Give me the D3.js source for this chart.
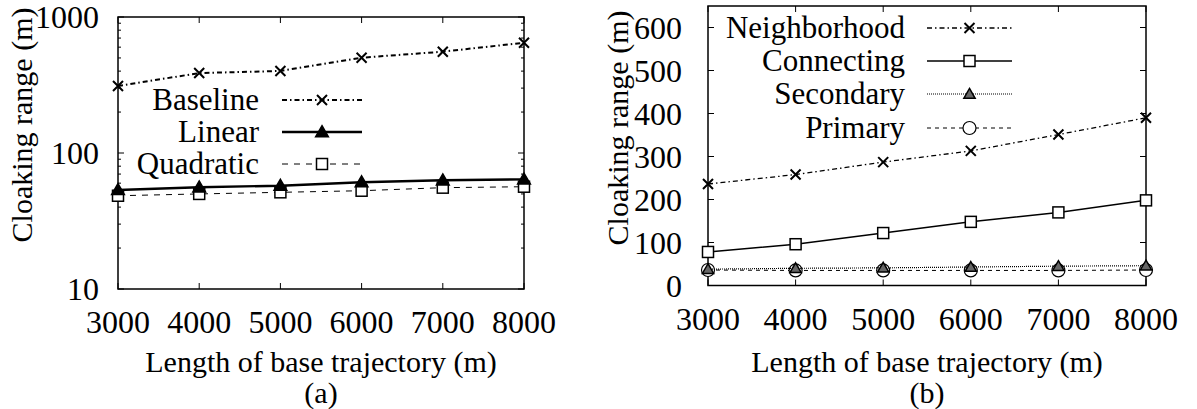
<!DOCTYPE html>
<html>
<head>
<meta charset="utf-8">
<script src="https://cdn.jsdelivr.net/npm/d3@7"></script>
</head>
<body style="margin:0">
<svg id="chart" width="1197" height="409" font-family="Liberation Serif"></svg>
<script>
// data
const lengths = [3000, 4000, 5000, 6000, 7000, 8000]
const xTicks = [3000, 4000, 5000, 6000, 7000, 8000]

// panel (a), log scale
const baseline = [311, 387, 401, 502, 556, 647]
const linear = [53.5, 56, 57.5, 61, 63, 64]
const quadratic = [48.5, 50, 51.4, 52.8, 55.6, 56.5]
const logTicks = [10, 100, 1000]

// panel (b), linear scale
const neighborhood = [236, 258, 287, 313, 351, 390]
const connecting = [78, 96, 122, 148, 170, 198]
const secondary = [38, 40, 41, 43, 45, 46]
const primary = [36, 35, 35, 35, 35, 36]
const linTicks = [0, 100, 200, 300, 400, 500, 600]

const svg = d3.select('#chart')

const panelA = { left: 118, right: 524, top: 17, bottom: 289 }
const panelB = { left: 708, right: 1146, top: 6, bottom: 285.5 }

// line styles
const styles = {
    dashdot: { dash: '5,3,1.5,3', width: 2 },
    solid: { dash: null, width: 2.4 },
    dashed: { dash: '6,6', width: 1 },
    dashdotThin: { dash: '5,3,1.5,3', width: 1.3 },
    solidThin: { dash: null, width: 1.5 },
    dotted: { dash: '1,1', width: 1.2 },
    dashedThin: { dash: '4,4', width: 1 }
}

function addText(g, x, y, str, size, anchor) {
    return g.append('text')
        .attr('x', x).attr('y', y)
        .attr('text-anchor', anchor || 'middle')
        .attr('font-family', 'Liberation Serif')
        .style('font-family', '"Liberation Serif"')
        .style('font-size', `${size}px`)
        .text(String(str))
}

function drawMarker(g, type, x, y) {
    if (type === 'cross') {
        const s = 5
        g.append('path')
            .attr('d', `M${x - s},${y - s}L${x + s},${y + s}M${x - s},${y + s}L${x + s},${y - s}`)
            .attr('stroke', '#000').attr('stroke-width', 2).attr('fill', 'none')
    } else if (type === 'square') {
        const s = 5.5
        g.append('rect')
            .attr('x', x - s).attr('y', y - s).attr('width', 2 * s).attr('height', 2 * s)
            .attr('stroke', '#000').attr('stroke-width', 1.5).attr('fill', '#fff')
    } else if (type === 'triangle') {
        g.append('path')
            .attr('d', d3.symbol(d3.symbolTriangle, 70)())
            .attr('transform', `translate(${x},${y + 1})`)
            .attr('stroke', '#000').attr('stroke-width', 1.5).attr('fill', '#000')
    } else if (type === 'triangleGray') {
        g.append('path')
            .attr('d', d3.symbol(d3.symbolTriangle, 55)())
            .attr('transform', `translate(${x},${y + 1})`)
            .attr('stroke', '#000').attr('stroke-width', 1.5).attr('fill', '#666')
    } else if (type === 'circle') {
        g.append('circle')
            .attr('cx', x).attr('cy', y).attr('r', 6.5)
            .attr('stroke', '#000').attr('stroke-width', 1.2).attr('fill', '#fff')
    }
}

function drawSeries(g, x, y, values, style, marker) {
    const line = d3.line()
        .x((d, i) => x(lengths[i]))
        .y(d => y(d))
    g.append('path')
        .datum(values)
        .attr('d', line)
        .attr('fill', 'none')
        .attr('stroke', '#000')
        .attr('stroke-width', style.width)
        .attr('stroke-dasharray', style.dash)
    values.forEach((v, i) => drawMarker(g, marker, x(lengths[i]), y(v)))
}

function drawLegendRow(g, label, textRight, x0, x1, yRow, style, marker) {
    addText(g, textRight, yRow + 10, label, 31, 'end')
    g.append('line')
        .attr('x1', x0).attr('x2', x1).attr('y1', yRow).attr('y2', yRow)
        .attr('stroke', '#000')
        .attr('stroke-width', style.width)
        .attr('stroke-dasharray', style.dash)
    drawMarker(g, marker, (x0 + x1) / 2, yRow)
}

function drawFrame(g, p, x, y, yTickVals, minorVals, labelGap, caption) {
    // ticks on all four sides, pointing in
    const tl = 6
    xTicks.forEach(t => {
        g.append('line').attr('x1', x(t)).attr('x2', x(t)).attr('y1', p.bottom).attr('y2', p.bottom - tl)
            .attr('stroke', '#000').attr('stroke-width', 1)
        g.append('line').attr('x1', x(t)).attr('x2', x(t)).attr('y1', p.top).attr('y2', p.top + tl)
            .attr('stroke', '#000').attr('stroke-width', 1)
        addText(g, x(t), p.bottom + 44, t, 32)
    })
    yTickVals.forEach(t => {
        g.append('line').attr('x1', p.left).attr('x2', p.left + tl).attr('y1', y(t)).attr('y2', y(t))
            .attr('stroke', '#000').attr('stroke-width', 1)
        g.append('line').attr('x1', p.right).attr('x2', p.right - tl).attr('y1', y(t)).attr('y2', y(t))
            .attr('stroke', '#000').attr('stroke-width', 1)
        addText(g, p.left - labelGap, y(t) + 11, t, 32, 'end')
    })
    minorVals.forEach(t => {
        g.append('line').attr('x1', p.left).attr('x2', p.left + 3).attr('y1', y(t)).attr('y2', y(t))
            .attr('stroke', '#000').attr('stroke-width', 1)
        g.append('line').attr('x1', p.right).attr('x2', p.right - 3).attr('y1', y(t)).attr('y2', y(t))
            .attr('stroke', '#000').attr('stroke-width', 1)
    })
    g.append('rect')
        .attr('x', p.left).attr('y', p.top)
        .attr('width', p.right - p.left).attr('height', p.bottom - p.top)
        .attr('fill', 'none').attr('stroke', '#000').attr('stroke-width', 1.5)

    const cx = (p.left + p.right) / 2
    addText(g, cx, 372, 'Length of base trajectory (m)', 30)
    addText(g, cx, 403, caption, 30)
}

// ---------- panel (a)
const gA = svg.append('g')
const xA = d3.scaleLinear().domain([3000, 8000]).range([panelA.left, panelA.right])
const yA = d3.scaleLog().domain([10, 1000]).range([panelA.bottom, panelA.top])
const minorA = []
;[10, 100].forEach(dec => { for (let k = 2; k <= 9; k++) minorA.push(dec * k) })

drawFrame(gA, panelA, xA, yA, logTicks, minorA, 19, '(a)')
drawSeries(gA, xA, yA, baseline, styles.dashdot, 'cross')
drawSeries(gA, xA, yA, quadratic, styles.dashed, 'square')
drawSeries(gA, xA, yA, linear, styles.solid, 'triangle')

drawLegendRow(gA, 'Baseline', 259, 282, 362, 100, styles.dashdot, 'cross')
drawLegendRow(gA, 'Linear', 259, 282, 362, 132, styles.solid, 'triangle')
drawLegendRow(gA, 'Quadratic', 259, 282, 362, 164, styles.dashed, 'square')

addText(gA, 0, 0, 'Cloaking range (m)', 30)
    .attr('transform', 'translate(32, 125) rotate(-90)')

// ---------- panel (b)
const gB = svg.append('g')
const xB = d3.scaleLinear().domain([3000, 8000]).range([panelB.left, panelB.right])
const yB = d3.scaleLinear().domain([0, 650]).range([panelB.bottom, panelB.top])

drawFrame(gB, panelB, xB, yB, linTicks, [], 26, '(b)')
drawSeries(gB, xB, yB, primary, styles.dashedThin, 'circle')
drawSeries(gB, xB, yB, secondary, styles.dotted, 'triangleGray')
drawSeries(gB, xB, yB, connecting, styles.solidThin, 'square')
drawSeries(gB, xB, yB, neighborhood, styles.dashdotThin, 'cross')

drawLegendRow(gB, 'Neighborhood', 905, 927, 1012, 28, styles.dashdotThin, 'cross')
drawLegendRow(gB, 'Connecting', 905, 927, 1012, 61, styles.solidThin, 'square')
drawLegendRow(gB, 'Secondary', 905, 927, 1012, 94, styles.dotted, 'triangleGray')
drawLegendRow(gB, 'Primary', 905, 927, 1012, 128, styles.dashedThin, 'circle')

addText(gB, 0, 0, 'Cloaking range (m)', 30)
    .attr('transform', 'translate(628, 128) rotate(-90)')
</script>
</body>
</html>
